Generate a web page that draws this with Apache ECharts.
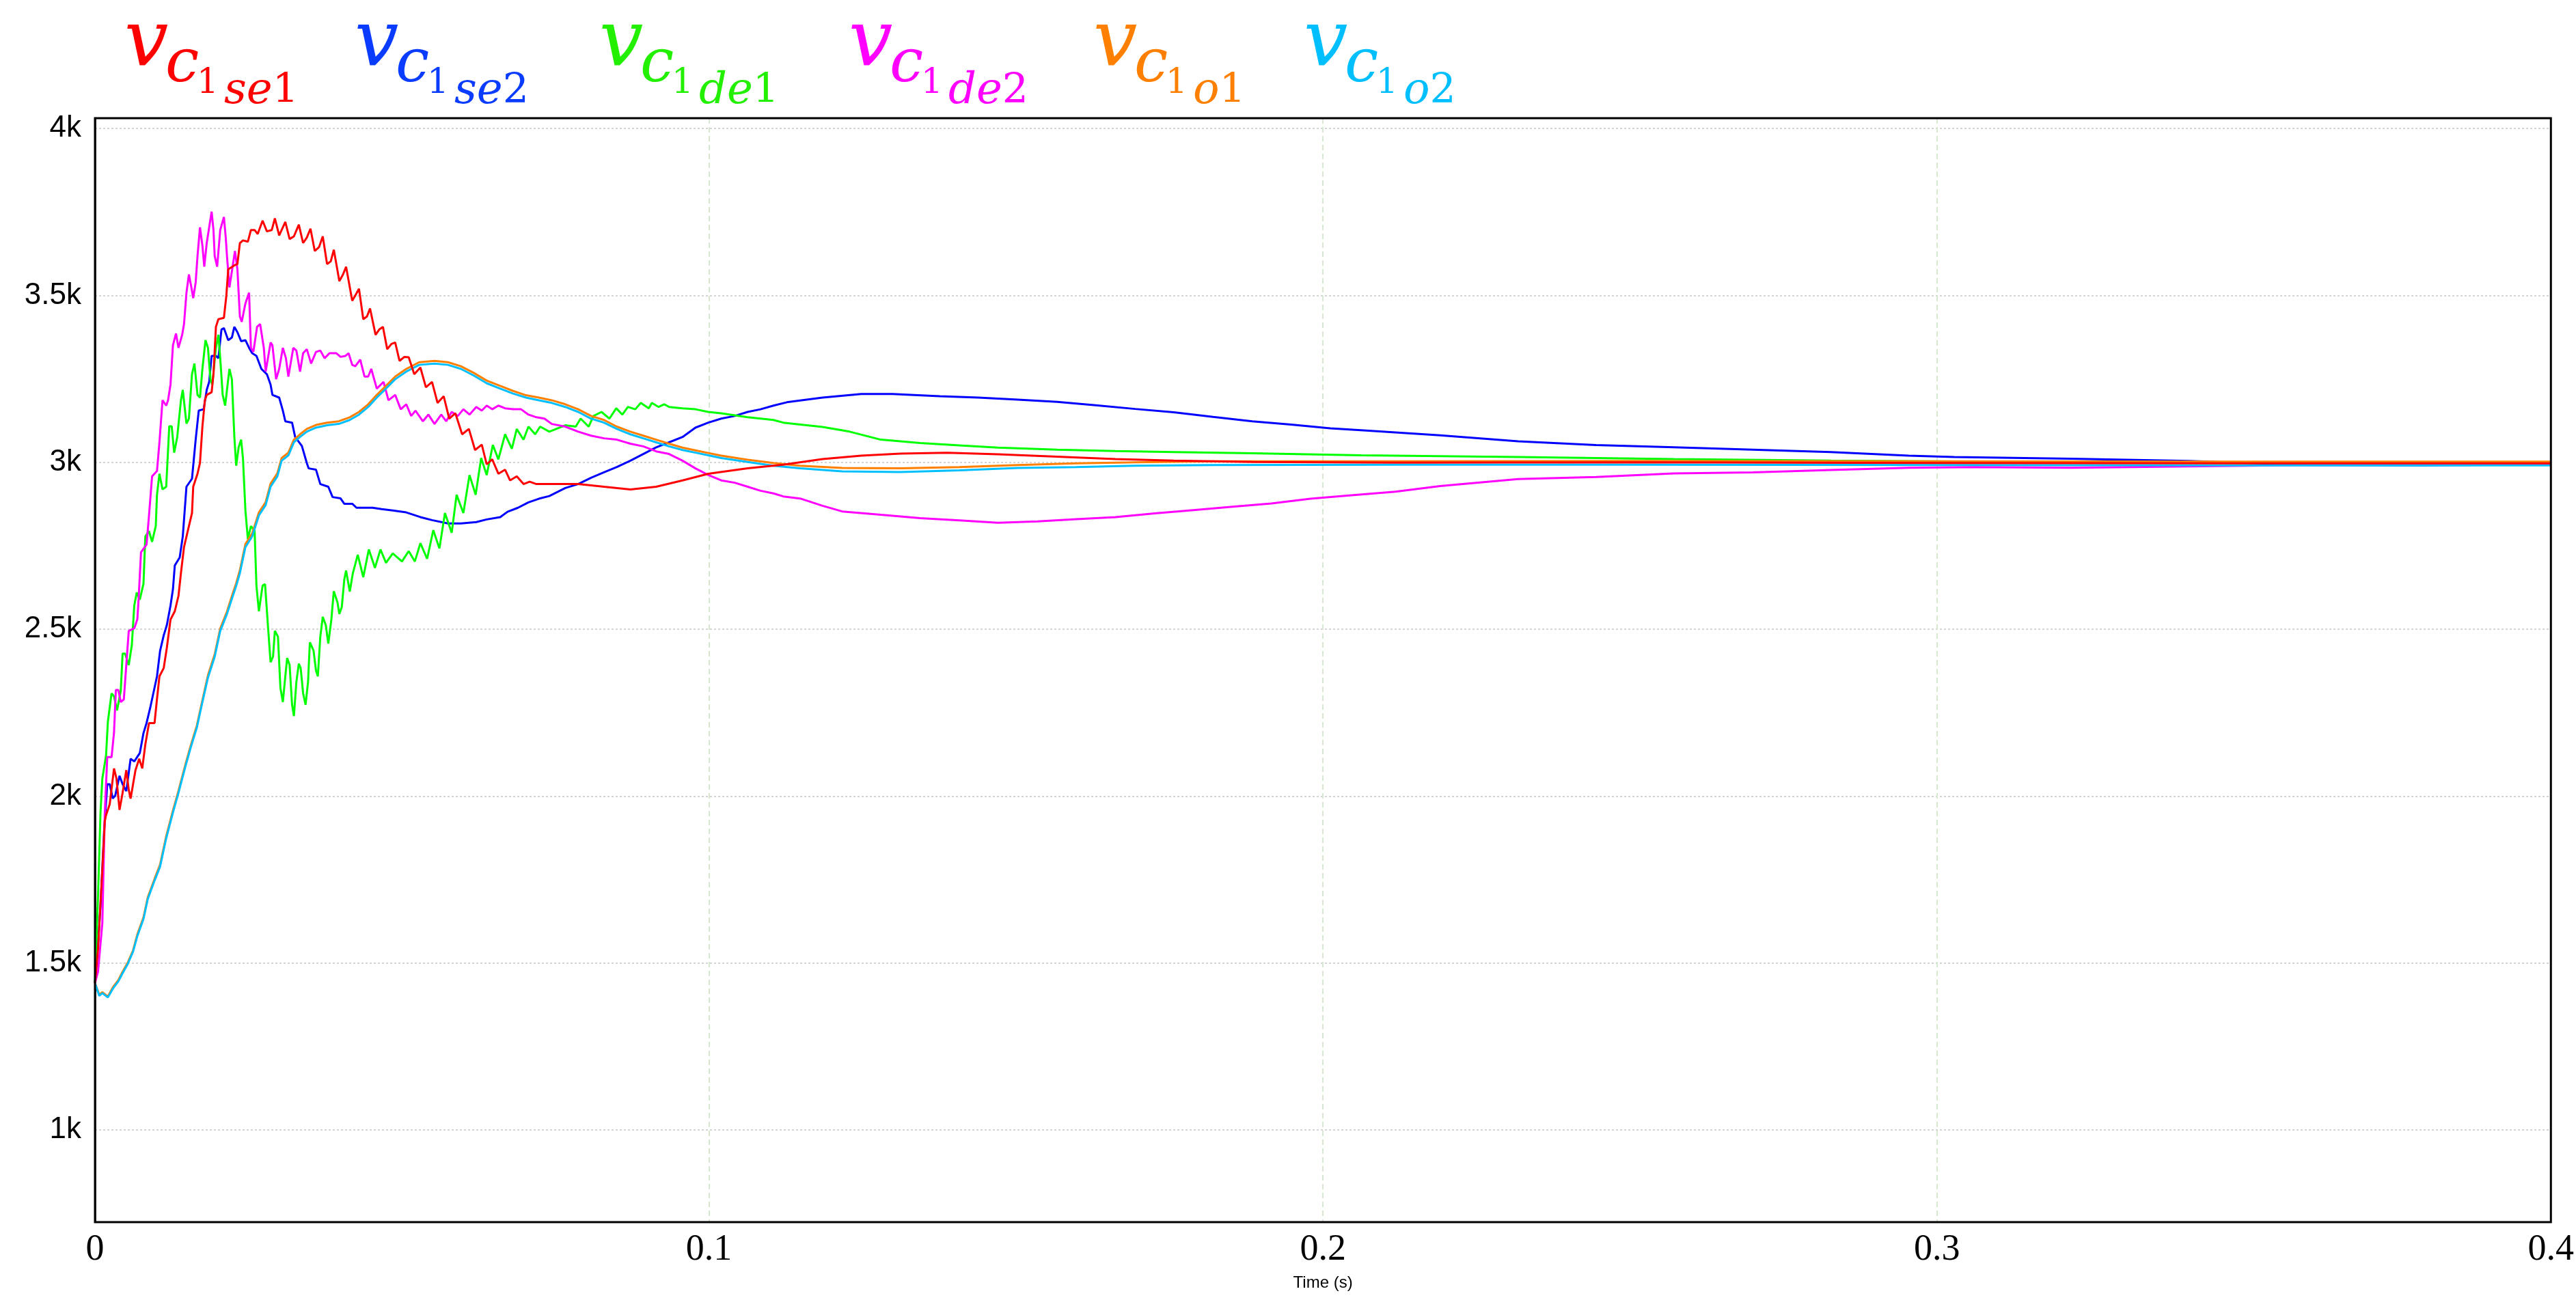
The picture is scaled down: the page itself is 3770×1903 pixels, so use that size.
<!DOCTYPE html>
<html>
<head>
<meta charset="utf-8">
<script src="https://cdn.jsdelivr.net/npm/echarts@6/dist/echarts.min.js"></script>
<style>
  html, body { margin: 0; padding: 0; background: #fff; }
  #chart { width: 3770px; height: 1903px; }
</style>
</head>
<body>
<div id="chart"></div>
<script>
// capacitor voltages, [time (s), volts]
const vSe1 = [[0,1440],[0.0005,1543],[0.0012,1781],[0.0016,1925],[0.0018,1943],[0.0024,1976],[0.0031,2083],[0.0035,2053],[0.0040,1959],[0.0045,2010],
  [0.0051,2078],[0.0055,2019],[0.0058,1993],[0.0066,2078],[0.0072,2112],[0.0077,2083],[0.0082,2155],[0.0088,2219],[0.0097,2219],[0.0101,2291],
  [0.0105,2359],[0.0112,2384],[0.0117,2444],[0.0123,2529],[0.0130,2554],[0.0136,2600],[0.0140,2668],[0.0145,2746],[0.0153,2809],[0.0158,2848],
  [0.0160,2927],[0.0167,2966],[0.0171,2998],[0.0175,3108],[0.0179,3186],[0.0182,3202],[0.0190,3210],[0.0193,3264],[0.0197,3406],[0.0201,3429],
  [0.0210,3433],[0.0214,3500],[0.0217,3578],[0.0227,3590],[0.0232,3594],[0.0236,3657],[0.0241,3665],[0.0249,3661],[0.0254,3696],[0.0260,3696],
  [0.0265,3684],[0.0273,3724],[0.0280,3692],[0.0288,3696],[0.0293,3731],[0.0300,3680],[0.0310,3720],[0.0317,3669],[0.0324,3677],[0.0332,3712],
  [0.0339,3657],[0.0345,3673],[0.0351,3700],[0.0358,3633],[0.0365,3645],[0.0371,3677],[0.0378,3594],[0.0384,3602],[0.0389,3637],[0.0398,3543],
  [0.0404,3563],[0.0409,3586],[0.0419,3484],[0.0424,3500],[0.0430,3520],[0.0437,3429],[0.0443,3437],[0.0448,3461],[0.0457,3382],[0.0463,3398],
  [0.0469,3406],[0.0476,3339],[0.0483,3355],[0.0489,3359],[0.0496,3304],[0.0504,3316],[0.0511,3315],[0.0520,3264],[0.0530,3284],[0.0539,3225],
  [0.0549,3241],[0.0558,3178],[0.0568,3198],[0.0577,3131],[0.0587,3147],[0.0598,3084],[0.0609,3100],[0.0619,3037],[0.0630,3053],[0.0638,2994],
  [0.0647,3009],[0.0657,2966],[0.0668,2978],[0.0676,2946],[0.0687,2958],[0.0698,2935],[0.0708,2942],[0.0719,2935],[0.0744,2935],[0.0787,2935],
  [0.0829,2927],[0.0872,2919],[0.0914,2927],[0.0957,2946],[0.0999,2966],[0.1063,2982],[0.1121,2993],[0.1185,3010],[0.1248,3020],[0.1312,3026],
  [0.1388,3029],[0.1471,3024],[0.1567,3017],[0.1662,3010],[0.1757,3005],[0.1885,3001],[0.2118,2999],[0.25,3000],[0.3,2998],[0.35,2997],[0.4,2997]];

const vSe2 = [[0,1440],[0.0005,1560],[0.0009,1670],[0.0015,1900],[0.0020,2036],[0.0024,2036],[0.0029,1993],[0.0033,2002],[0.0040,2061],[0.0045,2036],
  [0.0051,2015],[0.0058,2112],[0.0064,2104],[0.0073,2129],[0.0079,2189],[0.0084,2219],[0.0090,2265],[0.0095,2308],[0.0101,2359],[0.0106,2435],
  [0.0112,2482],[0.0117,2512],[0.0123,2571],[0.0127,2620],[0.0130,2691],[0.0138,2715],[0.0143,2778],[0.0149,2927],[0.0158,2951],[0.0164,3068],
  [0.0169,3155],[0.0177,3159],[0.0182,3217],[0.0186,3241],[0.0190,3319],[0.0197,3319],[0.0201,3312],[0.0206,3398],[0.0210,3402],[0.0217,3366],
  [0.0223,3374],[0.0227,3406],[0.0232,3390],[0.0238,3363],[0.0245,3366],[0.0251,3343],[0.0256,3327],[0.0263,3319],[0.0271,3280],[0.0280,3264],
  [0.0286,3233],[0.0289,3202],[0.0300,3194],[0.0306,3155],[0.0310,3123],[0.0321,3119],[0.0326,3076],[0.0337,3049],[0.0345,2998],[0.0348,2982],
  [0.0360,2978],[0.0367,2935],[0.0380,2927],[0.0387,2896],[0.0400,2892],[0.0406,2876],[0.0419,2876],[0.0426,2864],[0.0452,2864],[0.0467,2860],
  [0.0485,2856],[0.0507,2850],[0.0530,2836],[0.0549,2827],[0.0575,2817],[0.0596,2817],[0.0621,2821],[0.0638,2829],[0.0660,2836],[0.0672,2852],
  [0.0689,2864],[0.0706,2880],[0.0723,2891],[0.0740,2899],[0.0766,2923],[0.0787,2935],[0.0808,2954],[0.0829,2970],[0.0850,2986],[0.0872,3005],
  [0.0893,3025],[0.0914,3045],[0.0935,3060],[0.0957,3076],[0.0978,3104],[0.0999,3119],[0.1020,3131],[0.1042,3139],[0.1063,3151],[0.1084,3159],
  [0.1105,3170],[0.1127,3180],[0.1185,3194],[0.1248,3205],[0.1299,3205],[0.1376,3198],[0.1439,3194],[0.1503,3188],[0.1567,3181],[0.1630,3171],
  [0.1694,3160],[0.1757,3150],[0.1821,3136],[0.1885,3123],[0.1948,3113],[0.2012,3102],[0.2075,3095],[0.2191,3081],[0.2318,3063],[0.2445,3052],
  [0.2572,3045],[0.2700,3038],[0.2827,3031],[0.2954,3020],[0.3028,3016],[0.3219,3011],[0.3410,3004],[0.3601,2992],[0.3792,2991],[0.4,2994]];

const vDe1 = [[0,1440],[0.0005,1704],[0.0009,1951],[0.0012,2053],[0.0018,2121],[0.0021,2223],[0.0027,2308],[0.0031,2299],[0.0036,2257],[0.0042,2316],
  [0.0045,2427],[0.0049,2427],[0.0055,2393],[0.0060,2452],[0.0064,2571],[0.0068,2610],[0.0073,2589],[0.0079,2636],[0.0082,2778],[0.0088,2794],
  [0.0093,2762],[0.0099,2809],[0.0101,2903],[0.0105,2966],[0.0110,2919],[0.0116,2927],[0.0121,3108],[0.0125,3108],[0.0129,3029],[0.0134,3076],
  [0.0140,3186],[0.0143,3217],[0.0149,3116],[0.0153,3131],[0.0158,3264],[0.0162,3296],[0.0167,3202],[0.0171,3194],[0.0175,3280],[0.0180,3366],
  [0.0184,3343],[0.0188,3249],[0.0191,3233],[0.0197,3343],[0.0201,3382],[0.0204,3312],[0.0208,3202],[0.0212,3170],[0.0215,3217],[0.0219,3280],
  [0.0223,3249],[0.0227,3076],[0.0230,2990],[0.0234,3045],[0.0238,3068],[0.0241,3013],[0.0245,2856],[0.0249,2770],[0.0254,2809],[0.0260,2794],
  [0.0263,2630],[0.0267,2554],[0.0273,2631],[0.0277,2635],[0.0282,2503],[0.0286,2401],[0.0290,2418],[0.0293,2495],[0.0298,2478],[0.0302,2325],
  [0.0306,2282],[0.0310,2359],[0.0313,2414],[0.0317,2393],[0.0321,2274],[0.0324,2240],[0.0328,2342],[0.0332,2397],[0.0335,2384],[0.0339,2308],
  [0.0343,2274],[0.0347,2342],[0.0350,2461],[0.0356,2436],[0.0360,2376],[0.0363,2359],[0.0367,2478],[0.0371,2537],[0.0376,2512],[0.0380,2457],
  [0.0385,2529],[0.0389,2614],[0.0395,2580],[0.0398,2546],[0.0402,2567],[0.0406,2648],[0.0409,2676],[0.0415,2613],[0.0420,2668],[0.0428,2723],
  [0.0437,2656],[0.0446,2739],[0.0456,2684],[0.0465,2739],[0.0474,2699],[0.0485,2727],[0.0500,2703],[0.0511,2734],[0.0521,2703],[0.0530,2758],
  [0.0541,2711],[0.0551,2797],[0.0561,2742],[0.0570,2848],[0.0581,2789],[0.0589,2903],[0.0600,2848],[0.0610,2962],[0.0620,2903],[0.0629,3013],
  [0.0638,2962],[0.0648,3052],[0.0657,3009],[0.0668,3084],[0.0679,3041],[0.0687,3100],[0.0698,3068],[0.0706,3107],[0.0717,3084],[0.0725,3107],
  [0.0740,3092],[0.0766,3111],[0.0783,3107],[0.0791,3131],[0.0804,3107],[0.0812,3139],[0.0825,3151],[0.0838,3131],[0.0849,3162],[0.0859,3143],
  [0.0868,3166],[0.0880,3159],[0.0889,3178],[0.0902,3162],[0.0907,3178],[0.0918,3166],[0.0927,3174],[0.0935,3166],[0.0957,3162],[0.0978,3159],
  [0.0999,3151],[0.1020,3147],[0.1063,3135],[0.1105,3127],[0.1121,3119],[0.1185,3106],[0.1229,3092],[0.1280,3068],[0.1344,3058],[0.1408,3051],
  [0.1471,3044],[0.1567,3038],[0.1662,3034],[0.1757,3031],[0.1885,3027],[0.2063,3021],[0.2318,3016],[0.2572,3010],[0.2827,3005],[0.3061,3002],
  [0.35,3000],[0.4,3000]];

const vDe2 = [[0,1440],[0.0005,1475],[0.0012,1620],[0.0016,1950],[0.0020,2117],[0.0027,2117],[0.0031,2190],[0.0034,2318],[0.0038,2318],[0.0042,2282],
  [0.0047,2290],[0.0051,2393],[0.0055,2495],[0.0064,2503],[0.0069,2530],[0.0071,2589],[0.0075,2731],[0.0084,2754],[0.0088,2841],[0.0093,2958],
  [0.0101,2974],[0.0105,3060],[0.0110,3186],[0.0116,3170],[0.0119,3186],[0.0123,3233],[0.0127,3351],[0.0132,3386],[0.0136,3343],[0.0142,3382],
  [0.0145,3414],[0.0149,3508],[0.0153,3563],[0.0157,3524],[0.0160,3492],[0.0164,3539],[0.0167,3618],[0.0171,3704],[0.0175,3649],[0.0178,3586],
  [0.0182,3657],[0.0186,3704],[0.0190,3751],[0.0193,3696],[0.0195,3618],[0.0199,3586],[0.0204,3696],[0.0210,3735],[0.0213,3673],[0.0215,3618],
  [0.0219,3524],[0.0228,3633],[0.0232,3578],[0.0236,3437],[0.0239,3421],[0.0245,3476],[0.0251,3508],[0.0254,3343],[0.0258,3331],[0.0264,3406],
  [0.0269,3414],[0.0275,3343],[0.0278,3272],[0.0286,3359],[0.0289,3351],[0.0295,3249],[0.0300,3280],[0.0306,3343],[0.0311,3312],[0.0315,3257],
  [0.0323,3343],[0.0328,3335],[0.0334,3272],[0.0339,3327],[0.0345,3339],[0.0352,3296],[0.0360,3331],[0.0367,3335],[0.0374,3312],[0.0382,3327],
  [0.0393,3327],[0.0400,3316],[0.0408,3319],[0.0413,3327],[0.0419,3292],[0.0424,3288],[0.0432,3308],[0.0439,3257],[0.0445,3257],[0.0450,3280],
  [0.0459,3221],[0.0470,3241],[0.0478,3186],[0.0489,3202],[0.0498,3159],[0.0507,3174],[0.0515,3139],[0.0522,3155],[0.0534,3123],[0.0543,3143],
  [0.0553,3115],[0.0564,3143],[0.0572,3123],[0.0581,3151],[0.0591,3139],[0.0600,3159],[0.0610,3143],[0.0621,3166],[0.0630,3155],[0.0638,3170],
  [0.0647,3159],[0.0657,3170],[0.0668,3162],[0.0681,3159],[0.0694,3159],[0.0706,3143],[0.0719,3135],[0.0732,3131],[0.0744,3115],[0.0766,3107],
  [0.0787,3092],[0.0808,3080],[0.0829,3072],[0.0850,3068],[0.0872,3056],[0.0893,3048],[0.0914,3033],[0.0935,3025],[0.0957,3005],[0.0978,2982],
  [0.0999,2962],[0.1020,2946],[0.1042,2939],[0.1063,2927],[0.1084,2915],[0.1105,2907],[0.1121,2898],[0.1150,2891],[0.1185,2870],[0.1217,2853],
  [0.1280,2843],[0.1344,2833],[0.1408,2826],[0.1471,2819],[0.1535,2823],[0.1598,2830],[0.1662,2836],[0.1726,2847],[0.1789,2857],[0.1853,2867],
  [0.1916,2877],[0.1980,2891],[0.2043,2901],[0.2118,2912],[0.2191,2929],[0.2318,2950],[0.2445,2956],[0.2572,2967],[0.2700,2970],[0.2827,2977],
  [0.2954,2984],[0.3061,2986],[0.3219,2984],[0.3410,2988],[0.3600,2992],[0.4,2994]];

const vO1 = [[0,1440],[0.0007,1405],[0.0012,1413],[0.0021,1400],[0.0029,1427],[0.0038,1449],[0.0045,1474],[0.0053,1500],[0.0062,1538],[0.0069,1586],
  [0.0079,1637],[0.0086,1697],[0.0097,1752],[0.0106,1795],[0.0116,1880],[0.0127,1957],[0.0136,2016],[0.0147,2093],[0.0156,2152],[0.0166,2212],
  [0.0175,2288],[0.0184,2362],[0.0195,2425],[0.0204,2502],[0.0215,2553],[0.0224,2605],[0.0230,2638],[0.0236,2677],[0.0245,2755],[0.0256,2787],
  [0.0267,2850],[0.0278,2881],[0.0286,2936],[0.0297,2967],[0.0304,3013],[0.0315,3029],[0.0324,3068],[0.0334,3084],[0.0345,3100],[0.0360,3112],
  [0.0378,3119],[0.0397,3123],[0.0415,3135],[0.0430,3151],[0.0445,3174],[0.0459,3202],[0.0474,3229],[0.0489,3257],[0.0507,3280],[0.0528,3300],
  [0.0553,3304],[0.0575,3300],[0.0596,3288],[0.0617,3268],[0.0638,3245],[0.0660,3229],[0.0681,3214],[0.0702,3201],[0.0723,3194],[0.0744,3186],
  [0.0766,3174],[0.0787,3159],[0.0808,3139],[0.0829,3127],[0.0850,3107],[0.0872,3092],[0.0893,3080],[0.0914,3068],[0.0935,3056],[0.0957,3044],
  [0.0978,3036],[0.0999,3028],[0.1020,3020],[0.1063,3008],[0.1105,2998],[0.1148,2990],[0.1217,2983],[0.1312,2982],[0.1408,2986],[0.1503,2992],
  [0.1598,2997],[0.1694,3000],[0.1821,3003],[0.2118,3003],[0.25,3004],[0.3,3003],[0.35,3002],[0.4,3002]];

const vO2 = [[0,1440],[0.0007,1402],[0.0012,1410],[0.0021,1397],[0.0029,1423],[0.0038,1445],[0.0045,1470],[0.0053,1496],[0.0062,1534],[0.0069,1581],
  [0.0079,1632],[0.0086,1692],[0.0097,1747],[0.0106,1789],[0.0116,1874],[0.0127,1951],[0.0136,2010],[0.0147,2087],[0.0156,2146],[0.0166,2206],
  [0.0175,2282],[0.0184,2355],[0.0195,2418],[0.0204,2495],[0.0215,2546],[0.0224,2597],[0.0230,2630],[0.0236,2668],[0.0245,2746],[0.0256,2778],
  [0.0267,2841],[0.0278,2872],[0.0286,2927],[0.0297,2958],[0.0304,3005],[0.0315,3021],[0.0324,3060],[0.0334,3076],[0.0345,3092],[0.0360,3104],
  [0.0378,3111],[0.0397,3115],[0.0415,3127],[0.0430,3143],[0.0445,3166],[0.0459,3194],[0.0474,3221],[0.0489,3249],[0.0507,3272],[0.0528,3292],
  [0.0553,3296],[0.0575,3292],[0.0596,3280],[0.0617,3260],[0.0638,3237],[0.0660,3221],[0.0681,3206],[0.0702,3194],[0.0723,3186],[0.0744,3178],
  [0.0766,3166],[0.0787,3151],[0.0808,3131],[0.0829,3119],[0.0850,3100],[0.0872,3084],[0.0893,3072],[0.0914,3060],[0.0935,3048],[0.0957,3037],
  [0.0978,3029],[0.0999,3021],[0.1020,3013],[0.1063,3001],[0.1105,2990],[0.1148,2982],[0.1217,2973],[0.1312,2971],[0.1408,2976],[0.1503,2983],
  [0.1598,2986],[0.1694,2990],[0.1821,2992],[0.2118,2993],[0.25,2993],[0.3,2992],[0.35,2991],[0.4,2991]];

const yTicks = [1000, 1500, 2000, 2500, 3000, 3500, 4000];
const legendSubs = ['se1', 'se2', 'de1', 'de2', 'o1', 'o2'];
const lineColors = ['#ff0000', '#0000ff', '#00ff00', '#ff00ff', '#ff8000', '#00bfff'];
const legendColors = ['#ff0000', '#0a3cff', '#22f000', '#ff00ff', '#ff8000', '#00bfff'];
const legendX = [182, 519, 877, 1242, 1600, 1908];

var chart = echarts.init(document.getElementById('chart'));

// legend drawn as stacked subscript text, like the math labels of the original
var legendGraphics = [];
legendSubs.forEach(function(sub, i) {
    var x = legendX[i], c = legendColors[i];
    var serif = '"DejaVu Serif", serif';
    legendGraphics.push({type: 'text', left: x, top: 8,
        style: {text: 'v', fill: c, font: 'italic 114px ' + serif}});
    legendGraphics.push({type: 'text', left: x + 60, top: 52,
        style: {text: 'c', fill: c, font: 'italic 88px ' + serif}});
    legendGraphics.push({type: 'text', left: x + 106, top: 98,
        style: {text: '1', fill: c, font: '50px ' + serif}});
    legendGraphics.push({type: 'text', left: x + 146, top: 102,
        style: {
            text: '{i|' + sub.replace(/[0-9]/g, '') + '}{n|' + sub.replace(/[a-z]/g, '') + '}',
            rich: {
                i: {fill: c, fontFamily: serif, fontStyle: 'italic', fontSize: 64},
                n: {fill: c, fontFamily: serif, fontSize: 60}
            }
        }});
});

var names = ['vc1se1', 'vc1se2', 'vc1de1', 'vc1de2', 'vc1o1', 'vc1o2'];
var dataSets = [vSe1, vSe2, vDe1, vDe2, vO1, vO2];
// draw order: red last so it sits on top like in the original
var order = [1, 2, 3, 4, 5, 0];
var series = order.map(function(k) {
    return {
        name: names[k],
        type: 'line',
        data: dataSets[k],
        showSymbol: false,
        lineStyle: {width: 3, color: lineColors[k]},
        itemStyle: {color: lineColors[k]},
        z: 3
    };
});

var option = {
    animation: false,
    backgroundColor: '#fff',
    grid: {
        left: 139, right: 23, top: 173, bottom: 114,
        show: true, borderColor: '#000', borderWidth: 3, z: 4
    },
    xAxis: {
        type: 'value',
        min: 0, max: 0.4, interval: 0.1,
        name: 'Time (s)',
        nameLocation: 'middle',
        nameGap: 77,
        nameTextStyle: {fontFamily: '"Liberation Sans", Arial', fontSize: 24, color: '#000'},
        axisLine: {show: false},
        axisTick: {show: false},
        axisLabel: {
            margin: 14,
            fontFamily: '"Liberation Serif", "Times New Roman", serif',
            fontSize: 54, color: '#000',
            showMinLabel: true, showMaxLabel: true,
            formatter: function(v) { return v === 0 ? '0' : String(+v.toFixed(1)); }
        },
        splitLine: {show: true, showMinLine: false, showMaxLine: false,
            lineStyle: {color: '#d6e9d0', width: 2, type: [8, 5]}}
    },
    yAxis: {
        type: 'value',
        min: 724, max: 4031,
        axisLine: {show: true, lineStyle: {color: '#000', width: 2.5}},
        axisTick: {show: false, customValues: yTicks},
        axisLabel: {
            customValues: yTicks,
            margin: 20,
            fontFamily: '"Liberation Sans", Arial, sans-serif',
            fontSize: 44, color: '#000',
            formatter: function(v) { return (v / 1000) + 'k'; }
        },
        splitLine: {show: true, lineStyle: {color: '#d4d4d4', width: 2, type: [3, 3]}}
    },
    graphic: legendGraphics,
    series: series
};

chart.setOption(option);
</script>
</body>
</html>
